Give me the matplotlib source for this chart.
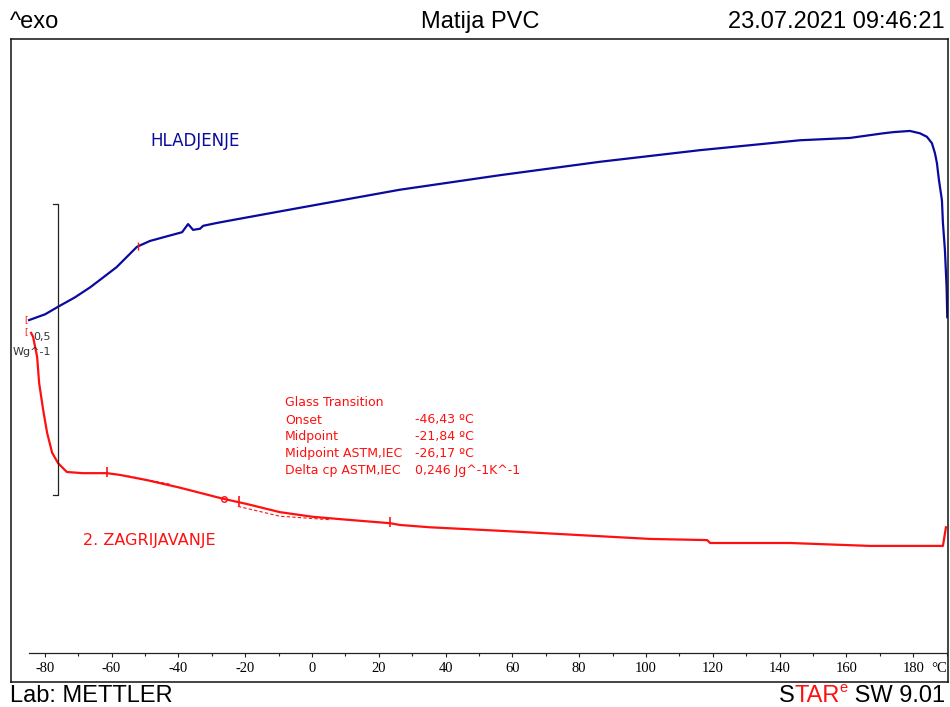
import matplotlib
matplotlib.use("Agg")
import matplotlib.pyplot as plt

plt.rcParams["axes.unicode_minus"] = False

# ---------------- data (temperature in °C, heat flow in W/g, arbitrary offset) ----------------
cool_T = [-84.7, -79.9, -76.0, -71.0, -66.5, -63.5, -58.5, -52.4, -48.5, -43.4, -38.9, -37.1,
          -35.6, -33.5, -32.6, -28.4, -23.7, -3.6, 26.3, 56.3, 86.2, 116.2, 146.1, 161.1,
          171.1, 174.1, 179.0, 182.0, 184.1, 185.6, 186.5, 187.1, 187.7, 188.6, 188.9,
          189.5, 190.0, 190.2]
cool_hf = [0.572, 0.582, 0.595, 0.611, 0.628, 0.641, 0.663, 0.698, 0.708, 0.716, 0.723, 0.737,
           0.727, 0.729, 0.734, 0.739, 0.744, 0.765, 0.796, 0.821, 0.844, 0.864, 0.881, 0.885,
           0.893, 0.895, 0.897, 0.893, 0.887, 0.876, 0.859, 0.842, 0.813, 0.778, 0.739,
           0.692, 0.629, 0.577]

heat_T = [-84.1, -83.5, -82.3, -81.7, -80.5, -79.3, -77.8, -76.0, -73.4, -68.6, -61.4, -57.5,
          -49.4, -39.5, -26.6, -19.5, -9.6, 0.3, 10.5, 23.4, 26.3, 35.3, 56.3, 101.2, 118.3,
          119.2, 143.1, 167.1, 188.9, 189.8]
heat_hf = [0.550, 0.543, 0.509, 0.464, 0.418, 0.378, 0.344, 0.326, 0.311, 0.309, 0.309, 0.306,
           0.297, 0.284, 0.265, 0.256, 0.242, 0.234, 0.229, 0.223, 0.220, 0.216, 0.210, 0.196,
           0.194, 0.189, 0.189, 0.184, 0.184, 0.216]

# dashed evaluation baselines
base_upper_T = [-55.0, -42.5]
base_upper_hf = [0.304, 0.290]
base_lower_T = [-22.2, -9.6, 5.4]
base_lower_hf = [0.252, 0.235, 0.229]

# evaluation limit / onset ticks and midpoint
eval_tick_T = [-61.4, -22.0, 23.4]
eval_tick_hf = [0.311, 0.262, 0.225]
mid_T = [-26.2]
mid_hf = [0.265]
cool_mark_T = [-52.1]
cool_mark_hf = [0.700]

# scale bar 0,5 W/g
scale_T = -76.0
scale_hf = [0.271, 0.771]

x_ticks = list(range(-80, 181, 20))
x_minor = list(range(-80, 191, 10))

gt_labels = ["Onset", "Midpoint", "Midpoint ASTM,IEC", "Delta cp ASTM,IEC"]
gt_values = ["-46,43 ºC", "-21,84 ºC", "-26,17 ºC", "0,246 Jg^-1K^-1"]

BLUE = "#0a0a9e"
RED = "#ff1010"

# ---------------- layout helpers (pixels -> figure fraction) ----------------
W, H = 950, 707
def fx(p):
    return p / W
def fy(p):
    return 1 - p / H

fig = plt.figure(figsize=(9.5, 7.07), dpi=100)

left, right, top, bottom = 11, 948, 39, 682
x0, ppd = 312.0, 3.34      # pixel of 0 °C, pixels per °C
y0, ppw = 653.0, 582.0     # pixel of hf=0, pixels per W/g

ax = fig.add_axes([fx(left), fy(bottom), fx(right) - fx(left), fy(top) - fy(bottom)])
ax.set_xlim((left - x0) / ppd, (right - x0) / ppd)
ax.set_ylim((y0 - bottom) / ppw, (y0 - top) / ppw)
ax.set_xticks([])
ax.set_yticks([])
for s in ax.spines.values():
    s.set_linewidth(1.1)
    s.set_color("#111111")

# temperature axis
tax = fig.add_axes([fx(29), fy(y0), fx(947) - fx(29), 0.0001])
tax.set_xlim((29 - x0) / ppd, (947 - x0) / ppd)
tax.patch.set_visible(False)
for k in ["left", "right", "top"]:
    tax.spines[k].set_visible(False)
tax.spines["bottom"].set_linewidth(0.9)
tax.spines["bottom"].set_color("#222222")
tax.set_yticks([])
tax.set_xticks(x_ticks)
tax.set_xticks(x_minor, minor=True)
tax.set_xticklabels([str(v) for v in x_ticks])
tax.tick_params(axis="x", which="major", direction="out", length=3.2, width=0.8,
                color="#222222", pad=3, labelsize=10.5)
tax.tick_params(axis="x", which="minor", direction="out", length=2.0, width=0.8, color="#222222")
for lab in tax.get_xticklabels():
    lab.set_fontfamily("Liberation Serif")
fig.text(fx(931), fy(668.5), "°C", family="Liberation Serif", fontsize=10.5, va="center", ha="left")

# curves
ax.plot(cool_T, cool_hf, color=BLUE, lw=1.6, solid_joinstyle="round")
ax.plot(heat_T, heat_hf, color=RED, lw=1.6, solid_joinstyle="round")
ax.plot(base_upper_T, base_upper_hf, color=RED, lw=0.8, ls=(0, (3, 2)))
ax.plot(base_lower_T, base_lower_hf, color=RED, lw=0.8, ls=(0, (3, 2)))
ax.plot(eval_tick_T, eval_tick_hf, ls="none", marker="|", ms=7, mew=1.2, color=RED)
ax.plot(mid_T, mid_hf, ls="none", marker="o", ms=4, mfc="none", mew=1.0, color=RED)
ax.plot(cool_mark_T, cool_mark_hf, ls="none", marker="|", ms=6, mew=1.0, color=RED)

# start markers
ax.text(cool_T[0] - 0.4, cool_hf[0], "[", color=RED, fontsize=6.5, ha="right", va="center")
ax.text(heat_T[0] - 1.0, heat_hf[0] + 0.002, "[", color=RED, fontsize=6.5, ha="right", va="center")

# scale bar
ax.plot([scale_T - 1.5, scale_T, scale_T, scale_T - 1.5],
        [scale_hf[1], scale_hf[1], scale_hf[0], scale_hf[0]], color="#222222", lw=0.9)
fig.text(fx(33), fy(337), "0,5", fontsize=8, color="#333333", va="center", ha="left")
fig.text(fx(13), fy(352), "Wg^-1", fontsize=8, color="#333333", va="center", ha="left")

# labels inside plot
fig.text(fx(150), fy(141), "HLADJENJE", color=BLUE, fontsize=12, va="center", ha="left")
fig.text(fx(83), fy(540), "2. ZAGRIJAVANJE", color=RED, fontsize=11.5, va="center", ha="left")

fig.text(fx(285), fy(403), "Glass Transition", color=RED, fontsize=9, va="center", ha="left")
for i, (lab, val) in enumerate(zip(gt_labels, gt_values)):
    yy = 420 + i * 16.7
    fig.text(fx(285), fy(yy), lab, color=RED, fontsize=9, va="center", ha="left")
    fig.text(fx(415), fy(yy), val, color=RED, fontsize=9, va="center", ha="left")

# header
hdr = dict(family="Liberation Sans", fontsize=17, va="baseline")
fig.text(fx(10), fy(28), "^exo", ha="left", **hdr)
fig.text(fx(480), fy(28), "Matija PVC", ha="center", **hdr)
fig.text(fx(945), fy(28), "23.07.2021 09:46:21", ha="right", **hdr)

# footer
FS = 17
fig.text(fx(10), fy(701.5), "Lab: METTLER", ha="left", va="baseline",
         family="Liberation Sans", fontsize=FS)

r = fig.canvas.get_renderer()
xr = fx(945)
pieces = [(" SW 9.01", "black", FS, 0), ("e", RED, 10.5, 9), ("TAR", RED, FS, 0), ("S", "black", FS, 0)]
for txt, col, size, dy in pieces:
    t = fig.text(xr, fy(701.5 - dy), txt, ha="right", va="baseline", color=col,
                 family="Liberation Sans", fontsize=size)
    bb = t.get_window_extent(r)
    xr = bb.x0 / fig.bbox.width

fig.savefig("out.png", dpi=100)
